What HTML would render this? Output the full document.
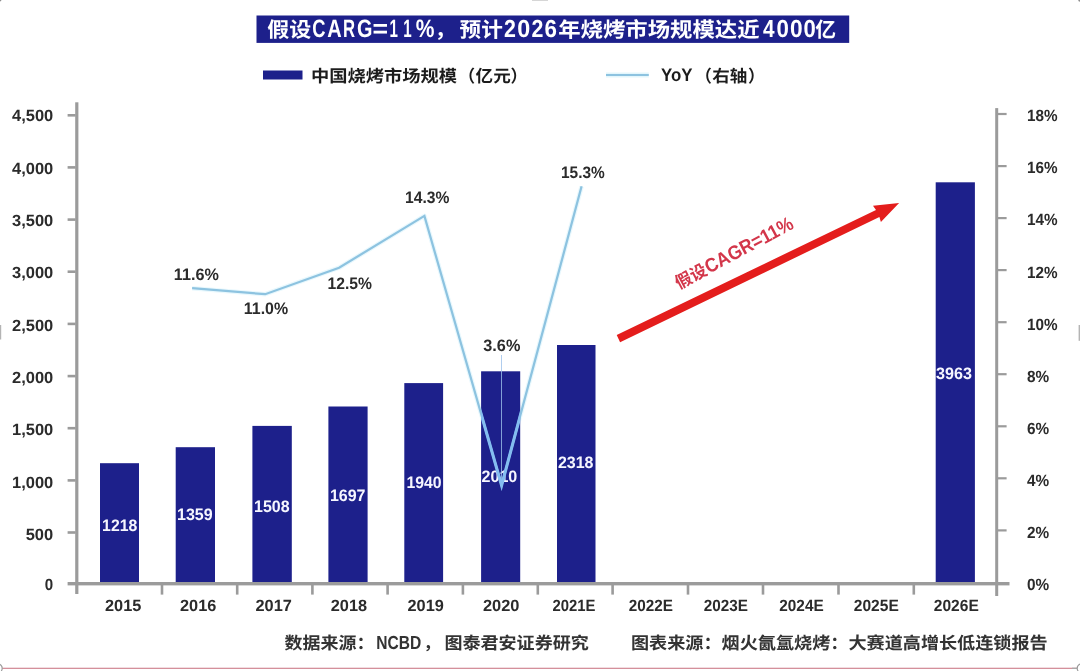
<!DOCTYPE html>
<html lang="zh"><head><meta charset="utf-8"><title>假设CARG=11%，预计2026年烧烤市场规模达近4000亿</title>
<style>
html,body{margin:0;padding:0;background:#fff;overflow:hidden}
svg{display:block;will-change:transform}
text{font-family:"Liberation Sans","Noto Sans CJK SC",sans-serif;font-weight:bold;text-rendering:geometricPrecision}
</style></head><body>
<svg width="1080" height="671" viewBox="0 0 1080 671">
<rect width="1080" height="671" fill="#ffffff"/>
<rect x="256.500" y="15.500" width="592.700" height="27.400" fill="#1d208b"/>
<text x="267.200" y="36.900" font-size="20.800" fill="#ffffff" textLength="44" lengthAdjust="spacingAndGlyphs">假设</text>
<text transform="translate(312.250,37.400) scale(0.728,1)" font-size="25.200" fill="#ffffff">C</text>
<text transform="translate(327.300,37.400) scale(0.793,1)" font-size="25.200" fill="#ffffff">A</text>
<text transform="translate(342.880,37.400) scale(0.663,1)" font-size="25.200" fill="#ffffff">R</text>
<text transform="translate(357.090,37.400) scale(0.788,1)" font-size="25.200" fill="#ffffff">G</text>
<text transform="translate(372.490,37.400) scale(1.060,1)" font-size="25.200" fill="#ffffff">=</text>
<text transform="translate(389.530,37.400) scale(0.600,1)" font-size="25.200" fill="#ffffff">1</text>
<text transform="translate(403.180,37.400) scale(0.600,1)" font-size="25.200" fill="#ffffff">1</text>
<text transform="translate(415.780,37.400) scale(0.834,1)" font-size="25.200" fill="#ffffff">%</text>
<text x="434.800" y="36.900" font-size="20.800" fill="#ffffff">，</text>
<text x="459.600" y="36.900" font-size="20.800" fill="#ffffff" textLength="43.200" lengthAdjust="spacingAndGlyphs">预计</text>
<text transform="translate(503.960,37.300) scale(0.870,1)" font-size="24.600" fill="#ffffff">2</text>
<text transform="translate(517.180,37.300) scale(0.949,1)" font-size="24.600" fill="#ffffff">0</text>
<text transform="translate(531.460,37.300) scale(0.870,1)" font-size="24.600" fill="#ffffff">2</text>
<text transform="translate(544.480,37.300) scale(0.908,1)" font-size="24.600" fill="#ffffff">6</text>
<text x="558.200" y="36.900" font-size="20.800" fill="#ffffff" textLength="201.400" lengthAdjust="spacingAndGlyphs">年烧烤市场规模达近</text>
<text transform="translate(762.990,37.300) scale(0.842,1)" font-size="24.600" fill="#ffffff">4</text>
<text transform="translate(776.520,37.300) scale(0.906,1)" font-size="24.600" fill="#ffffff">0</text>
<text transform="translate(789.900,37.300) scale(0.923,1)" font-size="24.600" fill="#ffffff">0</text>
<text transform="translate(803.530,37.300) scale(0.897,1)" font-size="24.600" fill="#ffffff">0</text>
<text x="815.200" y="36.900" font-size="20.800" fill="#ffffff">亿</text>
<rect x="263" y="70.500" width="39.500" height="9" fill="#1d208b"/>
<text x="311.100" y="81.800" font-size="16.900" fill="#1c1c1c" textLength="146" lengthAdjust="spacingAndGlyphs">中国烧烤市场规模</text>
<text x="475.200" y="81.800" font-size="16.900" fill="#1c1c1c" text-anchor="end">（</text>
<text x="475.600" y="81.800" font-size="16.900" fill="#1c1c1c" textLength="35.100" lengthAdjust="spacingAndGlyphs">亿元</text>
<text x="510.500" y="81.800" font-size="16.900" fill="#1c1c1c">）</text>
<line x1="606" y1="75" x2="648.800" y2="75" stroke="#d8f3fb" stroke-width="5" opacity="0.700"/>
<line x1="606" y1="75" x2="648.800" y2="75" stroke="#8dc3e0" stroke-width="2.200"/>
<text x="661.000" y="81.300" font-size="18" fill="#1c1c1c" textLength="31.500" lengthAdjust="spacingAndGlyphs">YoY</text>
<text x="711.900" y="81.800" font-size="16.900" fill="#1c1c1c" text-anchor="end">（</text>
<text x="712.200" y="81.800" font-size="16.900" fill="#1c1c1c" textLength="35.100" lengthAdjust="spacingAndGlyphs">右轴</text>
<text x="748.000" y="81.800" font-size="16.900" fill="#1c1c1c">）</text>
<polyline points="192.100,288.200 265.200,294.200 339.100,267.700 424.400,215.900 501.600,485.400 581.600,186.300" fill="none" stroke="#e9f8fd" stroke-width="4.600" stroke-linejoin="round"/>
<rect x="100.000" y="463.200" width="39.000" height="120.300" fill="#1d208b"/>
<rect x="175.700" y="447.200" width="39.300" height="136.300" fill="#1d208b"/>
<rect x="252.400" y="425.900" width="39.400" height="157.600" fill="#1d208b"/>
<rect x="328.400" y="406.500" width="39.200" height="177.000" fill="#1d208b"/>
<rect x="404.300" y="383.100" width="38.800" height="200.400" fill="#1d208b"/>
<rect x="481.100" y="371.300" width="39.100" height="212.200" fill="#1d208b"/>
<rect x="557.000" y="345.000" width="38.500" height="238.500" fill="#1d208b"/>
<rect x="935.700" y="182.300" width="39.200" height="401.200" fill="#1d208b"/>
<rect x="75.200" y="102.300" width="3.200" height="491.700" fill="#9b9b9b"/>
<rect x="995.200" y="108.100" width="3.000" height="487.900" fill="#9b9b9b"/>
<rect x="67.600" y="582.000" width="941.900" height="3.400" fill="#9b9b9b"/>
<rect x="67.600" y="531.200" width="8" height="2.600" fill="#9b9b9b"/>
<rect x="67.600" y="479.100" width="8" height="2.600" fill="#9b9b9b"/>
<rect x="67.600" y="426.900" width="8" height="2.600" fill="#9b9b9b"/>
<rect x="67.600" y="374.800" width="8" height="2.600" fill="#9b9b9b"/>
<rect x="67.600" y="322.600" width="8" height="2.600" fill="#9b9b9b"/>
<rect x="67.600" y="270.400" width="8" height="2.600" fill="#9b9b9b"/>
<rect x="67.600" y="218.300" width="8" height="2.600" fill="#9b9b9b"/>
<rect x="67.600" y="166.100" width="8" height="2.600" fill="#9b9b9b"/>
<rect x="67.600" y="114.000" width="8" height="2.600" fill="#9b9b9b"/>
<rect x="998" y="529.300" width="8.600" height="2.200" fill="#9b9b9b"/>
<rect x="998" y="477.200" width="8.600" height="2.200" fill="#9b9b9b"/>
<rect x="998" y="425.200" width="8.600" height="2.200" fill="#9b9b9b"/>
<rect x="998" y="373.100" width="8.600" height="2.200" fill="#9b9b9b"/>
<rect x="998" y="321.100" width="8.600" height="2.200" fill="#9b9b9b"/>
<rect x="998" y="269.000" width="8.600" height="2.200" fill="#9b9b9b"/>
<rect x="998" y="217.000" width="8.600" height="2.200" fill="#9b9b9b"/>
<rect x="998" y="165.000" width="8.600" height="2.200" fill="#9b9b9b"/>
<rect x="998" y="112.900" width="8.600" height="2.200" fill="#9b9b9b"/>
<rect x="160.700" y="585" width="2.600" height="9.600" fill="#9b9b9b"/>
<rect x="235.900" y="585" width="2.600" height="9.600" fill="#9b9b9b"/>
<rect x="311.100" y="585" width="2.600" height="9.600" fill="#9b9b9b"/>
<rect x="386.300" y="585" width="2.600" height="9.600" fill="#9b9b9b"/>
<rect x="461.600" y="585" width="2.600" height="9.600" fill="#9b9b9b"/>
<rect x="536.500" y="585" width="2.600" height="9.600" fill="#9b9b9b"/>
<rect x="611.300" y="585" width="2.600" height="9.600" fill="#9b9b9b"/>
<rect x="686.700" y="585" width="2.600" height="9.600" fill="#9b9b9b"/>
<rect x="761.700" y="585" width="2.600" height="9.600" fill="#9b9b9b"/>
<rect x="837.200" y="585" width="2.600" height="9.600" fill="#9b9b9b"/>
<rect x="912.500" y="585" width="2.600" height="9.600" fill="#9b9b9b"/>
<text x="44.800" y="590.400" font-size="16.300" fill="#2b2b2b" textLength="8.400" lengthAdjust="spacingAndGlyphs">0</text>
<text x="25.700" y="540.180" font-size="16.300" fill="#2b2b2b" textLength="27.500" lengthAdjust="spacingAndGlyphs">500</text>
<text x="12.000" y="487.820" font-size="16.300" fill="#2b2b2b" textLength="41.200" lengthAdjust="spacingAndGlyphs">1,000</text>
<text x="12.000" y="435.460" font-size="16.300" fill="#2b2b2b" textLength="41.200" lengthAdjust="spacingAndGlyphs">1,500</text>
<text x="12.000" y="383.100" font-size="16.300" fill="#2b2b2b" textLength="41.200" lengthAdjust="spacingAndGlyphs">2,000</text>
<text x="12.000" y="330.740" font-size="16.300" fill="#2b2b2b" textLength="41.200" lengthAdjust="spacingAndGlyphs">2,500</text>
<text x="12.000" y="278.380" font-size="16.300" fill="#2b2b2b" textLength="41.200" lengthAdjust="spacingAndGlyphs">3,000</text>
<text x="12.000" y="226.020" font-size="16.300" fill="#2b2b2b" textLength="41.200" lengthAdjust="spacingAndGlyphs">3,500</text>
<text x="12.000" y="173.660" font-size="16.300" fill="#2b2b2b" textLength="41.200" lengthAdjust="spacingAndGlyphs">4,000</text>
<text x="12.000" y="121.300" font-size="16.300" fill="#2b2b2b" textLength="41.200" lengthAdjust="spacingAndGlyphs">4,500</text>
<text x="1027.000" y="590.110" font-size="16.300" fill="#2b2b2b" textLength="22.200" lengthAdjust="spacingAndGlyphs">0%</text>
<text x="1027.000" y="538.020" font-size="16.300" fill="#2b2b2b" textLength="22.200" lengthAdjust="spacingAndGlyphs">2%</text>
<text x="1027.000" y="485.930" font-size="16.300" fill="#2b2b2b" textLength="22.200" lengthAdjust="spacingAndGlyphs">4%</text>
<text x="1027.000" y="433.840" font-size="16.300" fill="#2b2b2b" textLength="22.200" lengthAdjust="spacingAndGlyphs">6%</text>
<text x="1027.000" y="381.750" font-size="16.300" fill="#2b2b2b" textLength="22.200" lengthAdjust="spacingAndGlyphs">8%</text>
<text x="1027.000" y="329.660" font-size="16.300" fill="#2b2b2b" textLength="30.600" lengthAdjust="spacingAndGlyphs">10%</text>
<text x="1027.000" y="277.570" font-size="16.300" fill="#2b2b2b" textLength="30.600" lengthAdjust="spacingAndGlyphs">12%</text>
<text x="1027.000" y="225.480" font-size="16.300" fill="#2b2b2b" textLength="30.600" lengthAdjust="spacingAndGlyphs">14%</text>
<text x="1027.000" y="173.390" font-size="16.300" fill="#2b2b2b" textLength="30.600" lengthAdjust="spacingAndGlyphs">16%</text>
<text x="1027.000" y="121.300" font-size="16.300" fill="#2b2b2b" textLength="30.600" lengthAdjust="spacingAndGlyphs">18%</text>
<text x="105.000" y="610.700" font-size="16.300" fill="#2b2b2b" textLength="36.300" lengthAdjust="spacingAndGlyphs">2015</text>
<text x="180.000" y="610.700" font-size="16.300" fill="#2b2b2b" textLength="36.300" lengthAdjust="spacingAndGlyphs">2016</text>
<text x="255.500" y="610.700" font-size="16.300" fill="#2b2b2b" textLength="36.300" lengthAdjust="spacingAndGlyphs">2017</text>
<text x="330.800" y="610.700" font-size="16.300" fill="#2b2b2b" textLength="36.300" lengthAdjust="spacingAndGlyphs">2018</text>
<text x="407.500" y="610.700" font-size="16.300" fill="#2b2b2b" textLength="36.300" lengthAdjust="spacingAndGlyphs">2019</text>
<text x="483.000" y="610.700" font-size="16.300" fill="#2b2b2b" textLength="36.500" lengthAdjust="spacingAndGlyphs">2020</text>
<text x="552.500" y="610.700" font-size="16.300" fill="#2b2b2b" textLength="43.000" lengthAdjust="spacingAndGlyphs">2021E</text>
<text x="628.800" y="610.700" font-size="16.300" fill="#2b2b2b" textLength="44.200" lengthAdjust="spacingAndGlyphs">2022E</text>
<text x="703.800" y="610.700" font-size="16.300" fill="#2b2b2b" textLength="44.200" lengthAdjust="spacingAndGlyphs">2023E</text>
<text x="779.300" y="610.700" font-size="16.300" fill="#2b2b2b" textLength="44.400" lengthAdjust="spacingAndGlyphs">2024E</text>
<text x="853.800" y="610.700" font-size="16.300" fill="#2b2b2b" textLength="45.000" lengthAdjust="spacingAndGlyphs">2025E</text>
<text x="933.800" y="610.700" font-size="16.300" fill="#2b2b2b" textLength="45.000" lengthAdjust="spacingAndGlyphs">2026E</text>
<text x="102.100" y="531.400" font-size="16.600" fill="#f6f6ff" textLength="35.200" lengthAdjust="spacingAndGlyphs">1218</text>
<text x="177.000" y="520.000" font-size="16.600" fill="#f6f6ff" textLength="35.700" lengthAdjust="spacingAndGlyphs">1359</text>
<text x="254.000" y="511.700" font-size="16.600" fill="#f6f6ff" textLength="35.600" lengthAdjust="spacingAndGlyphs">1508</text>
<text x="329.900" y="500.700" font-size="16.600" fill="#f6f6ff" textLength="35.600" lengthAdjust="spacingAndGlyphs">1697</text>
<text x="406.400" y="488.300" font-size="16.600" fill="#f6f6ff" textLength="35.200" lengthAdjust="spacingAndGlyphs">1940</text>
<text x="481.500" y="482.000" font-size="16.600" fill="#f6f6ff" textLength="35.800" lengthAdjust="spacingAndGlyphs">2010</text>
<text x="557.900" y="468.300" font-size="16.600" fill="#f6f6ff" textLength="35.600" lengthAdjust="spacingAndGlyphs">2318</text>
<text x="936.000" y="379.000" font-size="16.600" fill="#f6f6ff" textLength="35.900" lengthAdjust="spacingAndGlyphs">3963</text>
<line x1="501.500" y1="355" x2="501.500" y2="486" stroke="#9cc0ea" stroke-opacity="0.800" stroke-width="1"/>
<polyline points="192.100,288.200 265.200,294.200 339.100,267.700 424.400,215.900 501.600,485.400 581.600,186.300" fill="none" stroke="#8dc3e0" stroke-width="2.250" stroke-linejoin="miter"/>
<clipPath id="onbar"><rect x="100.000" y="463.200" width="39.000" height="120.300"/><rect x="175.700" y="447.200" width="39.300" height="136.300"/><rect x="252.400" y="425.900" width="39.400" height="157.600"/><rect x="328.400" y="406.500" width="39.200" height="177.000"/><rect x="404.300" y="383.100" width="38.800" height="200.400"/><rect x="481.100" y="371.300" width="39.100" height="212.200"/><rect x="557.000" y="345.000" width="38.500" height="238.500"/><rect x="935.700" y="182.300" width="39.200" height="401.200"/></clipPath>
<polyline points="192.100,288.200 265.200,294.200 339.100,267.700 424.400,215.900 501.600,485.400 581.600,186.300" fill="none" stroke="#84bdf0" stroke-width="3.100" stroke-linejoin="miter" clip-path="url(#onbar)"/>
<text x="173.800" y="280.000" font-size="16.600" fill="#2b2b2b" textLength="45.000" lengthAdjust="spacingAndGlyphs">11.6%</text>
<text x="243.800" y="313.700" font-size="16.600" fill="#2b2b2b" textLength="44.300" lengthAdjust="spacingAndGlyphs">11.0%</text>
<text x="327.500" y="289.200" font-size="16.600" fill="#2b2b2b" textLength="44.500" lengthAdjust="spacingAndGlyphs">12.5%</text>
<text x="405.000" y="203.000" font-size="16.600" fill="#2b2b2b" textLength="44.400" lengthAdjust="spacingAndGlyphs">14.3%</text>
<text x="483.300" y="351.300" font-size="16.600" fill="#2b2b2b" textLength="37.100" lengthAdjust="spacingAndGlyphs">3.6%</text>
<text x="561.000" y="177.500" font-size="16.600" fill="#2b2b2b" textLength="43.800" lengthAdjust="spacingAndGlyphs">15.3%</text>
<polygon points="616.700,335.100 876.000,209.900 873.000,205.700 899.100,203.100 880.900,221.900 879.400,217.000 620.100,342.300" fill="#e41d1c"/>
<g transform="translate(679.000,289.600) rotate(-28.000)">
<text x="0" y="0" font-size="17" fill="#d3364a" textLength="33.400" lengthAdjust="spacingAndGlyphs">假设</text>
<text x="33.900" y="0.000" font-size="19.600" fill="#d3364a" textLength="97.500" lengthAdjust="spacingAndGlyphs">CAGR=11%</text>
</g>
<text x="284.600" y="649.000" font-size="17" fill="#333333" textLength="89.800" lengthAdjust="spacingAndGlyphs">数据来源：</text>
<text x="376.300" y="648.700" font-size="19.000" fill="#333333" textLength="45.000" lengthAdjust="spacingAndGlyphs">NCBD</text>
<text x="423.600" y="649.000" font-size="17" fill="#333333">，</text>
<text x="444.400" y="649.000" font-size="17" fill="#333333" textLength="144.400" lengthAdjust="spacingAndGlyphs">图泰君安证券研究</text>
<text x="631.000" y="649.000" font-size="17" fill="#333333" textLength="416.700" lengthAdjust="spacingAndGlyphs">图表来源：烟火氤氲烧烤：大赛道高增长低连锁报告</text>
<rect x="0" y="667.700" width="1077" height="1.300" fill="#d4909b"/>
<rect x="1072" y="667.700" width="5.500" height="1.300" fill="#a9a9a9"/>
<circle cx="-2.200" cy="668.300" r="4.400" fill="#fff" stroke="#9a9a9a" stroke-width="1.200"/>
<circle cx="1081.600" cy="668.300" r="4.400" fill="#fff" stroke="#9a9a9a" stroke-width="1.200"/>
<rect x="0" y="325" width="1.200" height="14.500" fill="#b4b4b4"/>
<rect x="1078.600" y="325" width="1.400" height="15.800" fill="#b4b4b4"/>
<circle cx="1080" cy="0" r="1.800" fill="#8f8f8f"/>
<circle cx="0" cy="0" r="1.400" fill="#8f8f8f"/>
<rect x="532" y="0" width="16" height="0.700" fill="#c4c4c4"/>
</svg>
</body></html>
